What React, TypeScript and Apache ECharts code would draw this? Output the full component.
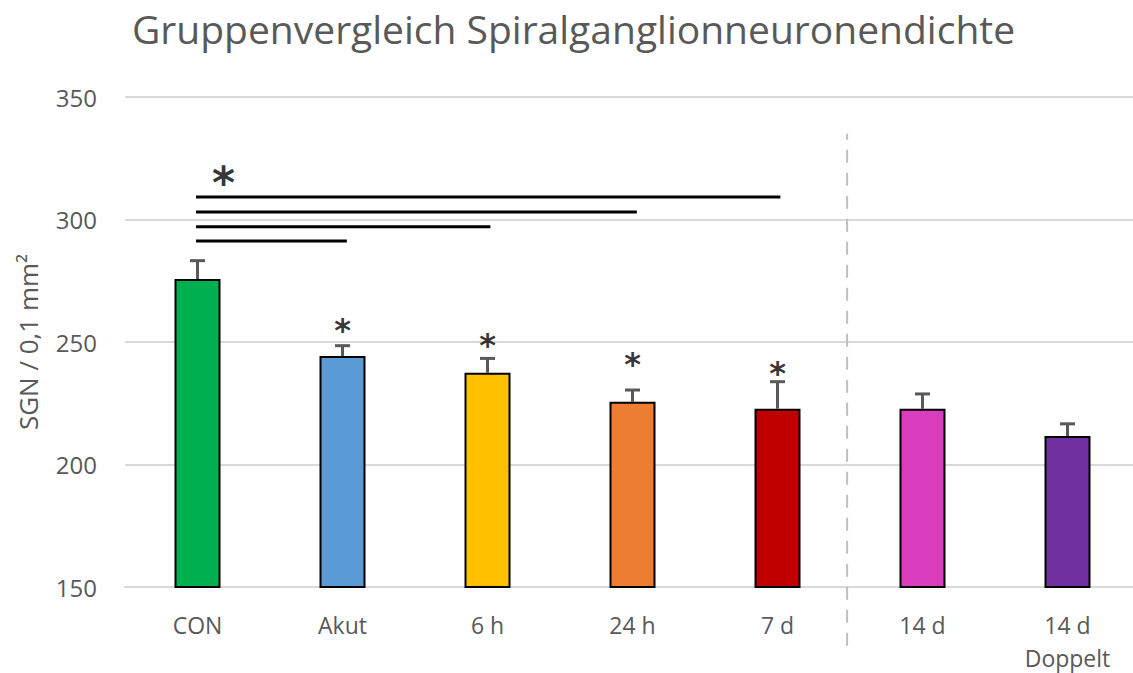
import React, { useEffect, useRef } from "react";
import * as echarts from "echarts";

const categories = ["CON", "Akut", "6 h", "24 h", "7 d", "14 d", "14 d\nDoppelt"];
const means = [275.7, 244.3, 237.5, 225.6, 222.8, 222.8, 211.6];
const errors = [7.5, 4.2, 5.8, 4.8, 11, 6, 5];
const colors = ["#00B050", "#5B9BD5", "#FFC000", "#ED7D31", "#C00000", "#D93DBD", "#7030A0"];
const yTicks = { min: 150, max: 350, interval: 50 };
// significance bars: [fromIndex, toIndex, yValue]
const sigLines: [number, number, number][] = [
  [-0.01, 4.02, 309.2],
  [-0.01, 3.03, 303.1],
  [-0.01, 2.02, 297.0],
  [-0.01, 1.03, 291.2],
];
const barStars: [number, number][] = [
  [1, 257.5],
  [2, 251.5],
  [3, 243.7],
  [4, 239.9],
];
const bigStar: [number, number] = [0.18, 318.5];
const dividerX = 4.48;
const dividerY: [number, number] = [126, 335];

export default function App() {
  const ref = useRef<HTMLDivElement>(null);
  useEffect(() => {
    if (!ref.current) return;
    const chart = echarts.init(ref.current, null, { renderer: "svg" });
    const textColor = "#595959";
    const font = "Open Sans";
    const starFont = "DejaVu Sans";
    const starSize = 32;
    const bigStarSize = 44;
    const series: any[] = [
      {
        type: "bar",
        xAxisIndex: 0,
        yAxisIndex: 0,
        barWidth: 46,
        data: means.map((v, i) => ({
          value: v,
          itemStyle: { color: colors[i], borderColor: "#000", borderWidth: 2 },
        })),
        z: 3,
      },
      {
        type: "custom",
        xAxisIndex: 0,
        yAxisIndex: 0,
        data: means.map((v, i) => [i, v, v + errors[i]]),
        z: 2,
        renderItem: (params: any, api: any) => {
          const x = api.value(0);
          const lo = api.coord([x, api.value(1)]);
          const hi = api.coord([x, api.value(2)]);
          const style = { stroke: "#595959", lineWidth: 3 };
          return {
            type: "group",
            children: [
              { type: "line", shape: { x1: lo[0], y1: lo[1], x2: hi[0], y2: hi[1] }, style },
              { type: "line", shape: { x1: hi[0] - 7.5, y1: hi[1], x2: hi[0] + 7.5, y2: hi[1] }, style },
            ],
          };
        },
      },
      ...sigLines.map(([a, b, y]) => ({
        type: "line",
        xAxisIndex: 1,
        yAxisIndex: 0,
        data: [[a, y], [b, y]],
        symbol: "none",
        lineStyle: { color: "#000", width: 3 },
        silent: true,
        z: 4,
      })),
      {
        type: "line",
        xAxisIndex: 1,
        yAxisIndex: 0,
        data: [[dividerX, dividerY[0]], [dividerX, dividerY[1]]],
        symbol: "none",
        clip: false,
        lineStyle: { color: "#BFBFBF", width: 2, type: [13, 10] },
        silent: true,
      },
      {
        type: "scatter",
        xAxisIndex: 1,
        yAxisIndex: 0,
        symbolSize: 0,
        data: barStars,
        label: {
          show: true,
          position: "inside",
          formatter: "*",
          fontSize: starSize,
          fontWeight: "bold",
          fontFamily: starFont,
          color: "#000",
          offset: [0, starSize * 0.2],
        },
        silent: true,
      },
      {
        type: "scatter",
        xAxisIndex: 1,
        yAxisIndex: 0,
        symbolSize: 0,
        data: [bigStar],
        label: {
          show: true,
          position: "inside",
          formatter: "*",
          fontSize: bigStarSize,
          fontWeight: "bold",
          fontFamily: starFont,
          color: "#000",
          offset: [0, bigStarSize * 0.2],
        },
        silent: true,
      },
    ];
    chart.setOption({
      animation: false,
      title: {
        text: "Gruppenvergleich Spiralganglionneuronendichte",
        left: 127,
        top: 4,
        textStyle: { fontFamily: font, fontSize: 39, fontWeight: "normal", color: textColor },
      },
      grid: {
        left: 125,
        top: 97,
        width: 1015,
        height: 490,
        containLabel: false,
        outerBoundsMode: "none",
      },
      xAxis: [
        {
          type: "category",
          data: categories,
          axisTick: { show: false },
          axisLine: { lineStyle: { color: "#D9D9D9", width: 2 } },
          axisLabel: {
            fontFamily: font,
            fontSize: 23,
            color: textColor,
            margin: 21,
            lineHeight: 33,
            verticalAlign: "top",
          },
        },
        { type: "value", min: -0.5, max: 6.5, show: false },
      ],
      yAxis: [
        {
          type: "value",
          min: yTicks.min,
          max: yTicks.max,
          interval: yTicks.interval,
          axisLine: { show: false },
          axisTick: { show: false },
          splitLine: { lineStyle: { color: "#D9D9D9", width: 2 } },
          axisLabel: { fontFamily: font, fontSize: 24, color: textColor, margin: 28 },
          name: "SGN / 0,1 mm²",
          nameLocation: "middle",
          nameGap: 84,
          nameTextStyle: { fontFamily: font, fontSize: 26, color: textColor },
        },
      ],
      series,
    });
    return () => chart.dispose();
  }, []);
  return <div ref={ref} style={{ width: 1133, height: 673, position: "absolute", left: 0, top: 0 }} />;
}
